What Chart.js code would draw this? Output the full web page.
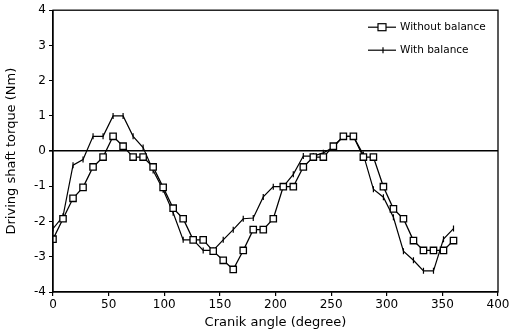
<!DOCTYPE html>
<html>
<head>
<meta charset="utf-8">
<script src="https://cdn.jsdelivr.net/npm/chart.js@4/dist/chart.umd.min.js"></script>
<style>
  html, body { margin: 0; padding: 0; background: #fff; }
  #wrap { width: 512px; height: 330px; }
</style>
</head>
<body>
<div id="wrap"><canvas id="torque" width="512" height="330"></canvas></div>
<script>
// crank angle samples (degree)
const angles = [0, 9, 18, 27, 36, 45, 54, 63, 72, 81, 90, 99, 108, 117, 126, 135, 144, 153, 162, 171,
  180, 189, 198, 207, 216, 225, 234, 243, 252, 261, 270, 279, 288, 297, 306, 315, 324, 333, 342, 351, 360];

// driving shaft torque (Nm)
const withoutBalance = [-2.5, -1.92, -1.34, -1.03, -0.45, -0.17, 0.42, 0.14, -0.17, -0.17,
  -0.45, -1.03, -1.62, -1.92, -2.52, -2.52, -2.84, -3.1, -3.36, -2.82,
  -2.23, -2.23, -1.92, -1.01, -1.01, -0.45, -0.17, -0.17, 0.14, 0.42,
  0.42, -0.17, -0.17, -1.01, -1.64, -1.92, -2.54, -2.82, -2.82, -2.82, -2.54];
const withBalance = [-2.2, -1.85, -0.4, -0.24, 0.42, 0.42, 1.0, 1.0, 0.42, 0.1,
  -0.55, -1.1, -1.75, -2.52, -2.52, -2.82, -2.82, -2.52, -2.23, -1.92,
  -1.9, -1.3, -1.01, -1.01, -0.66, -0.14, -0.14, -0.05, 0.11, 0.42,
  0.42, -0.1, -1.08, -1.31, -1.88, -2.84, -3.1, -3.4, -3.4, -2.5, -2.2];

const xTicks = [0, 50, 100, 150, 200, 250, 300, 350, 400];
const yTicks = [-4, -3, -2, -1, 0, 1, 2, 3, 4];

const seriesNames = ['Without balance', 'With balance'];

const FONT = 'DejaVu Sans';

const toPoints = ys => angles.map((a, i) => ({ x: a, y: ys[i] }));

// frame round the plot + hand drawn legend like the scan
const framePlugin = {
  id: 'frame',
  afterDraw(chart) {
    const { ctx, chartArea: a } = chart;
    ctx.save();
    ctx.strokeStyle = '#000';
    ctx.lineWidth = 1.3;
    ctx.strokeRect(a.left, a.top, a.right - a.left, a.bottom - a.top);

    // legend
    const lx = a.right - 130, ly = a.top + 17;
    ctx.lineWidth = 1.2;
    ctx.font = '10.5px "' + FONT + '"';
    ctx.fillStyle = '#000';
    ctx.textBaseline = 'middle';
    seriesNames.forEach((name, i) => {
      const y = ly + i * 23;
      ctx.beginPath();
      ctx.moveTo(lx, y);
      ctx.lineTo(lx + 28, y);
      ctx.stroke();
      if (i === 0) {
        ctx.fillStyle = '#fff';
        ctx.fillRect(lx + 10, y - 3.5, 8, 7);
        ctx.strokeRect(lx + 10, y - 3.5, 8, 7);
        ctx.fillStyle = '#000';
      } else {
        ctx.beginPath();
        ctx.moveTo(lx + 15, y - 3);
        ctx.lineTo(lx + 15, y + 3);
        ctx.stroke();
      }
      ctx.fillText(name, lx + 32, y);
    });
    ctx.restore();
  }
};

new Chart(document.getElementById('torque'), {
  type: 'line',
  data: {
    datasets: [
      {
        label: seriesNames[0],
        data: toPoints(withoutBalance),
        borderColor: '#000',
        borderWidth: 1.3,
        backgroundColor: '#fff',
        pointStyle: 'rect',
        pointRadius: 4.5,
        pointBorderWidth: 1.3,
        pointBorderColor: '#000',
        pointBackgroundColor: '#fff',
        tension: 0
      },
      {
        label: seriesNames[1],
        data: toPoints(withBalance),
        borderColor: '#000',
        borderWidth: 1.2,
        pointStyle: 'line',
        rotation: 90,
        pointRadius: 3,
        pointBorderWidth: 1.2,
        pointBorderColor: '#000',
        tension: 0
      }
    ]
  },
  options: {
    responsive: false,
    animation: false,
    layout: { padding: { top: 8, right: 14, left: 0, bottom: 0 } },
    plugins: { legend: { display: false }, tooltip: { enabled: false } },
    scales: {
      x: {
        type: 'linear',
        min: 0,
        max: 400,
        afterBuildTicks: s => { s.ticks = xTicks.map(v => ({ value: v })); },
        afterFit: s => { s.height = 38; },
        grid: { display: true, drawOnChartArea: false, color: '#000', tickLength: 4, lineWidth: 1.2 },
        border: { display: true, color: '#000', width: 1.3 },
        ticks: { color: '#000', font: { family: FONT, size: 12 }, padding: 2, maxRotation: 0 },
        title: { display: true, text: 'Cranik angle (degree)', color: '#000', font: { family: FONT, size: 13 }, padding: { top: 0, bottom: 0 } }
      },
      y: {
        min: -4,
        max: 4,
        afterBuildTicks: s => { s.ticks = yTicks.map(v => ({ value: v })); },
        afterFit: s => { s.width = 53; },
        grid: {
          color: c => c.tick && c.tick.value === 0 ? '#000' : 'rgba(0,0,0,0)',
          lineWidth: c => c.tick && c.tick.value === 0 ? 1.6 : 1,
          tickColor: '#000',
          tickLength: 4
        },
        border: { display: true, color: '#000', width: 1.3 },
        ticks: { color: '#000', font: { family: FONT, size: 12 }, padding: 3 },
        title: { display: true, text: 'Driving shaft torque (Nm)', color: '#000', font: { family: FONT, size: 13 }, padding: { top: 4, bottom: 0 } }
      }
    }
  },
  plugins: [framePlugin]
});
</script>
</body>
</html>
